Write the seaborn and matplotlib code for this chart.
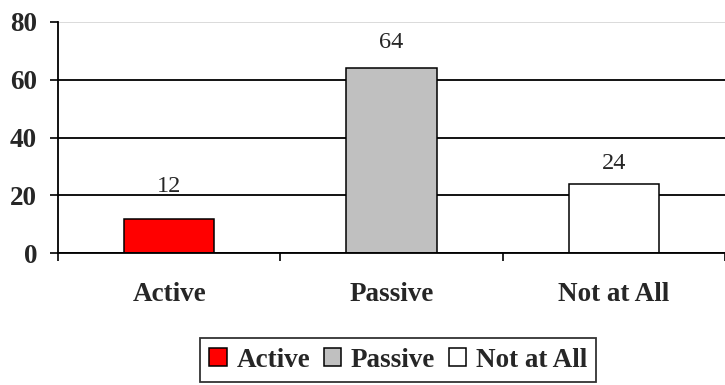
import seaborn as sns
import matplotlib.pyplot as plt
import matplotlib.ticker as mticker

########################################################
# Data
########################################################
categories = ['Active', 'Passive', 'Not at All']
values = [12, 64, 24]
bar_colors = ['#ff0000', '#c0c0c0', '#ffffff']
y_ticks = [0, 20, 40, 60, 80]

sns.set_style("white")
plt.rcParams['font.family'] = ['Liberation Serif', 'DejaVu Serif']

fig = plt.figure(figsize=(7.25, 3.85), dpi=100)
ax = fig.add_axes([0.08, 0.342, 0.92, 0.6017])

sns.barplot(x=categories, y=values, hue=categories, palette=bar_colors,
            width=0.405, edgecolor='black', linewidth=1.1, legend=False,
            saturation=1, ax=ax)

# value labels above bars (Excel placed them at slightly different offsets)
for c, pad in zip(ax.containers, [15.3, 11, 7.4]):
    ax.bar_label(c, fontsize=17.5, padding=pad)

########################################################
# Axes styling
########################################################
ax.set_xlim(-0.5, 2.5)
ax.set_ylim(0, 80)
ax.set_yticks(y_ticks)
ax.set_yticklabels([str(t) for t in y_ticks], fontsize=19.5, fontweight='bold')

# category boundary ticks (major), labels on minor ticks
ax.xaxis.set_major_locator(mticker.FixedLocator([-0.5, 0.5, 1.5, 2.5]))
ax.xaxis.set_major_formatter(mticker.NullFormatter())
ax.xaxis.set_minor_locator(mticker.FixedLocator([0, 1, 2]))
ax.xaxis.set_minor_formatter(mticker.FixedFormatter(categories))
ax.tick_params(axis='x', which='major', direction='out', length=6, width=1.2,
               color='black', bottom=True)
ax.tick_params(axis='x', which='minor', length=0, pad=21, labelsize=19.5)
for lbl in ax.get_xticklabels(minor=True):
    lbl.set_fontweight('bold')
ax.tick_params(axis='y', direction='out', length=6, width=1.2, color='black',
               left=True, pad=9)
ax.set_xlabel('')
ax.set_ylabel('')

ax.yaxis.grid(True, color='black', linewidth=1.3)
ax.set_axisbelow(True)
ax.get_ygridlines()[-1].set_color('#d8d8d8')

for side in ['top', 'right']:
    ax.spines[side].set_visible(False)
for side in ['left', 'bottom']:
    ax.spines[side].set_color('black')
    ax.spines[side].set_linewidth(1.3)

########################################################
# Legend
########################################################
handles = [c.patches[0] for c in ax.containers]
leg = fig.legend(handles, categories, loc='upper center',
                 bbox_to_anchor=(0.549, 0.122), ncol=3,
                 prop={'family': 'Liberation Serif', 'weight': 'bold', 'size': 19.5},
                 frameon=True, fancybox=False, shadow=False,
                 handlelength=0.65, handleheight=0.65, handletextpad=0.35,
                 columnspacing=0.5, borderpad=0.35, borderaxespad=0)
leg.get_frame().set_edgecolor('black')
leg.get_frame().set_linewidth(1.3)

plt.savefig('out.png', dpi=100)
